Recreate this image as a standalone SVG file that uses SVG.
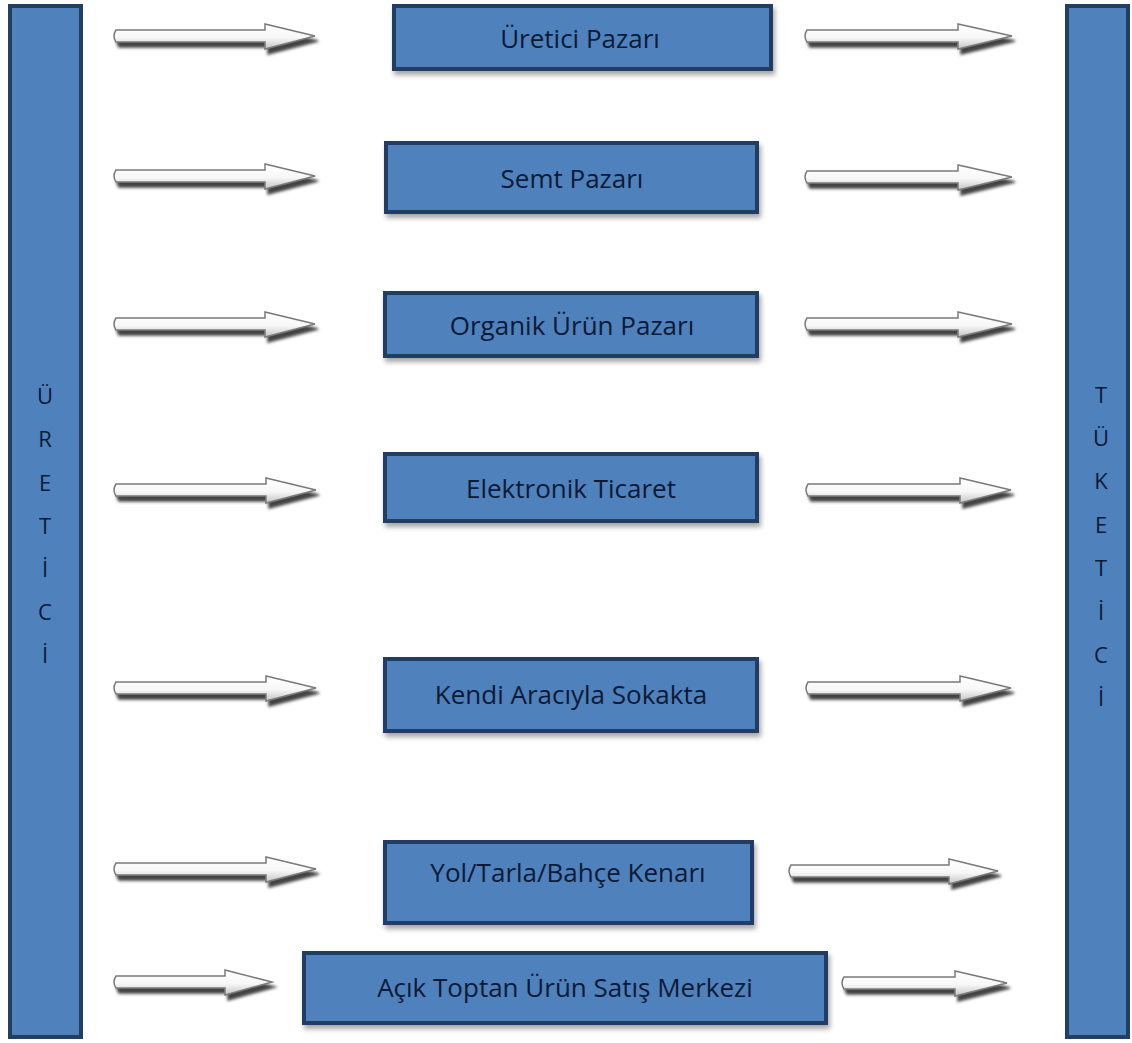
<svg xmlns="http://www.w3.org/2000/svg" width="1132" height="1043" viewBox="0 0 1132 1043">
<defs>
<filter id="boxShadow" x="-10%" y="-20%" width="120%" height="150%">
<feDropShadow dx="2" dy="4" stdDeviation="2.5" flood-color="#000" flood-opacity="0.35"/>
</filter>
<filter id="arrowShadow" x="-10%" y="-60%" width="120%" height="220%">
<feDropShadow dx="3" dy="5" stdDeviation="1.6" flood-color="#3a3a3a" flood-opacity="0.95"/>
</filter>
<linearGradient id="arrowFill" x1="0" y1="0" x2="0" y2="1">
<stop offset="0" stop-color="#ffffff"/>
<stop offset="0.55" stop-color="#f7f7f7"/>
<stop offset="1" stop-color="#c4c4c4"/>
</linearGradient>
</defs>
<style>
.bar{fill:#4f81bd;stroke:#233e63;stroke-width:4}
.box{fill:#4f81bd;stroke:#233e63;stroke-width:4;filter:url(#boxShadow)}
.lbl{font-family:"Open Sans","Noto Sans","Liberation Sans",sans-serif;font-size:26px;fill:#0c1a35;text-anchor:middle}
.vl{font-family:"Open Sans","Noto Sans","Liberation Sans",sans-serif;font-size:22px;fill:#0c1a35;text-anchor:middle}
.arr{fill:url(#arrowFill);stroke:#7a7a7a;stroke-width:1.5;stroke-linejoin:miter;filter:url(#arrowShadow)}
</style>
<rect width="1132" height="1043" fill="#ffffff"/>

<g id="uretici">
<rect class="bar" x="10" y="6" width="71" height="1031"/>
<text class="vl" x="45" y="404">Ü</text>
<text class="vl" x="45" y="447">R</text>
<text class="vl" x="45" y="491">E</text>
<text class="vl" x="45" y="534">T</text>
<text class="vl" x="45" y="577">İ</text>
<text class="vl" x="45" y="620">C</text>
<text class="vl" x="45" y="663">İ</text>
</g>

<g id="tuketici">
<rect class="bar" x="1067" y="6" width="61" height="1031"/>
<text class="vl" x="1101" y="403">T</text>
<text class="vl" x="1101" y="446">Ü</text>
<text class="vl" x="1101" y="489">K</text>
<text class="vl" x="1101" y="533">E</text>
<text class="vl" x="1101" y="576">T</text>
<text class="vl" x="1101" y="620">İ</text>
<text class="vl" x="1101" y="663">C</text>
<text class="vl" x="1101" y="706">İ</text>
</g>

<g id="uretici-pazari">
<rect class="box" x="394" y="6" width="377" height="63"/>
<text class="lbl" x="580" y="48">Üretici Pazarı</text>
</g>
<g id="semt-pazari">
<rect class="box" x="386" y="143" width="371" height="69"/>
<text class="lbl" x="572" y="188">Semt Pazarı</text>
</g>
<g id="organik-urun-pazari">
<rect class="box" x="385" y="293" width="372" height="63"/>
<text class="lbl" x="572" y="335">Organik Ürün Pazarı</text>
</g>
<g id="elektronik-ticaret">
<rect class="box" x="385" y="454" width="372" height="67"/>
<text class="lbl" x="571" y="498">Elektronik Ticaret</text>
</g>
<g id="kendi-araciyla-sokakta">
<rect class="box" x="385" y="659" width="372" height="72"/>
<text class="lbl" x="571" y="704">Kendi Aracıyla Sokakta</text>
</g>
<g id="yol-tarla-bahce-kenari">
<rect class="box" x="385" y="842" width="367" height="81"/>
<text class="lbl" x="568" y="882">Yol/Tarla/Bahçe Kenarı</text>
</g>
<g id="acik-toptan-urun-satis-merkezi">
<rect class="box" x="304" y="953" width="522" height="70"/>
<text class="lbl" x="565" y="997">Açık Toptan Ürün Satış Merkezi</text>
</g>

<g id="connectors">
<path class="arr" d="M116 30 L265 30 L265 24 L315 36 L265 49 L265 42 L116 42 Q112 36 116 30 Z"/>
<path class="arr" d="M116 170 L265 170 L265 164 L315 176 L265 189 L265 182 L116 182 Q112 176 116 170 Z"/>
<path class="arr" d="M116 318 L265 318 L265 312 L315 324 L265 337 L265 330 L116 330 Q112 324 116 318 Z"/>
<path class="arr" d="M116 484 L266 484 L266 478 L316 490 L266 503 L266 496 L116 496 Q112 490 116 484 Z"/>
<path class="arr" d="M116 682 L266 682 L266 676 L316 688 L266 701 L266 694 L116 694 Q112 688 116 682 Z"/>
<path class="arr" d="M116 863 L266 863 L266 857 L316 869 L266 882 L266 875 L116 875 Q112 869 116 863 Z"/>
<path class="arr" d="M116 976 L225 976 L225 970 L272 982 L225 995 L225 988 L116 988 Q112 982 116 976 Z"/>

<path class="arr" d="M807 30 L958 30 L958 24 L1012 36 L958 49 L958 42 L807 42 Q803 36 807 30 Z"/>
<path class="arr" d="M807 171 L958 171 L958 165 L1012 177 L958 190 L958 183 L807 183 Q803 177 807 171 Z"/>
<path class="arr" d="M807 318 L958 318 L958 312 L1012 324 L958 337 L958 330 L807 330 Q803 324 807 318 Z"/>
<path class="arr" d="M808 484 L960 484 L960 478 L1011 490 L960 503 L960 496 L808 496 Q804 490 808 484 Z"/>
<path class="arr" d="M808 682 L960 682 L960 676 L1011 688 L960 701 L960 694 L808 694 Q804 688 808 682 Z"/>
<path class="arr" d="M791 865 L949 865 L949 859 L998 871 L949 884 L949 877 L791 877 Q787 871 791 865 Z"/>
<path class="arr" d="M844 977 L955 977 L955 971 L1007 983 L955 996 L955 989 L844 989 Q840 983 844 977 Z"/>
</g>
</svg>
